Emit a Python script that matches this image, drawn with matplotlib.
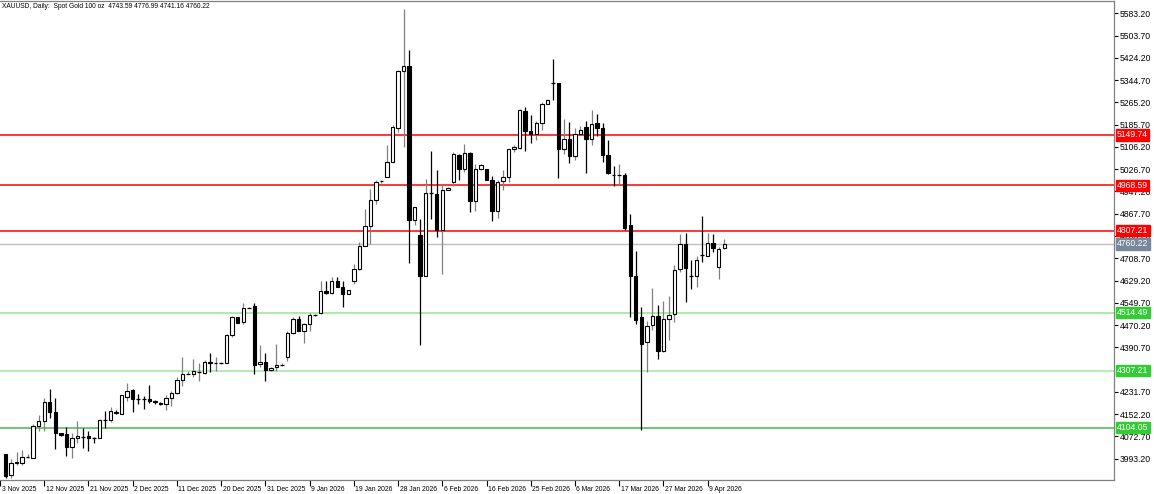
import matplotlib
matplotlib.use("Agg")
import matplotlib.pyplot as plt
import matplotlib.transforms as mtransforms

# daily candles XAUUSD
opens = [4009, 3934, 3976, 3976, 4000, 3994, 4108, 4128, 4196, 4161,
         4084, 4080, 4036, 4067, 4072, 4074, 4068, 4068, 4130, 4130,
         4161, 4154, 4214, 4238, 4206, 4206, 4206, 4199, 4193, 4190,
         4209, 4227, 4275, 4297, 4295, 4302, 4300, 4338, 4335, 4334,
         4334, 4436, 4498, 4481, 4532, 4537, 4331, 4338, 4309, 4319,
         4328, 4357, 4443, 4493, 4450, 4474, 4507, 4512, 4593, 4584,
         4629, 4605, 4581, 4627, 4671, 4753, 4825, 4915, 4983, 4999,
         5052, 5174, 5377, 5395, 4846, 4790, 4647, 4941, 4939, 4808,
         4953, 4981, 5076, 5029, 5085, 4913, 5029, 5029, 4989, 4876,
         4983, 4999, 5097, 5104, 5235, 5162, 5154, 5193, 5261, 5333,
         5333, 5097, 5136, 5073, 5154, 5178, 5136, 5192, 5175, 5079,
         5005, 5007, 5005, 4826, 4647, 4498, 4411, 4470, 4504, 4376,
         4492, 4510, 4671, 4758, 4645, 4644, 4722, 4716, 4764, 4679,
         4743.59]
highs = [4011, 3991, 4017, 4023, 4008, 4116, 4149, 4211, 4241, 4211,
         4086, 4106, 4083, 4128, 4104, 4092, 4071, 4134, 4164, 4176,
         4166, 4220, 4265, 4241, 4223, 4217, 4257, 4203, 4197, 4220,
         4235, 4285, 4355, 4307, 4349, 4333, 4345, 4371, 4355, 4337,
         4438, 4504, 4500, 4548, 4533, 4548, 4400, 4371, 4319, 4402,
         4333, 4450, 4498, 4504, 4476, 4512, 4510, 4627, 4627, 4643,
         4641, 4629, 4596, 4689, 4766, 4885, 4957, 4987, 4988, 5112,
         5184, 5380, 5597, 5452, 4893, 4850, 4993, 5091, 5023, 4975,
         4963, 5088, 5082, 5118, 5088, 5046, 5046, 5029, 5001, 4987,
         5023, 5100, 5112, 5243, 5247, 5219, 5199, 5267, 5279, 5419,
         5335, 5205, 5196, 5175, 5180, 5199, 5237, 5223, 5192, 5130,
         5037, 5044, 5013, 4868, 4736, 4536, 4483, 4602, 4543, 4555,
         4575, 4685, 4796, 4798, 4703, 4718, 4858, 4798, 4794, 4748,
         4776.99]
lows = [3925, 3925, 3970, 3969, 3996, 3994, 4092, 4092, 4140, 4029,
        4074, 4002, 3994, 4050, 4032, 4020, 4049, 4068, 4104, 4125,
        4154, 4154, 4199, 4161, 4188, 4170, 4193, 4188, 4185, 4166,
        4181, 4223, 4253, 4295, 4283, 4269, 4295, 4302, 4305, 4331,
        4334, 4426, 4476, 4474, 4530, 4297, 4321, 4271, 4305, 4305,
        4325, 4343, 4438, 4448, 4406, 4450, 4504, 4509, 4582, 4581,
        4605, 4534, 4581, 4615, 4665, 4753, 4760, 4901, 4977, 4999,
        5052, 5160, 5106, 4691, 4829, 4399, 4645, 4850, 4786, 4653,
        4951, 4965, 4987, 5017, 4873, 4877, 5025, 4987, 4841, 4853,
        4951, 4981, 5088, 5097, 5092, 5120, 5132, 5166, 5259, 5273,
        4996, 5082, 5049, 5058, 5152, 5013, 5112, 5144, 5052, 5008,
        4965, 4973, 4808, 4498, 4474, 4095, 4304, 4452, 4349, 4373,
        4417, 4480, 4659, 4551, 4599, 4605, 4695, 4716, 4730, 4635,
        4741.16]
closes = [3931, 3979, 3981, 3999, 4001, 4110, 4128, 4196, 4161, 4083,
          4078, 4036, 4068, 4073, 4071, 4066, 4067, 4130, 4129, 4164,
          4155, 4220, 4235, 4206, 4205, 4205, 4198, 4195, 4189, 4209,
          4227, 4275, 4297, 4297, 4305, 4302, 4338, 4333, 4335, 4334,
          4436, 4498, 4476, 4532, 4532, 4328, 4338, 4309, 4317, 4328,
          4328, 4443, 4493, 4450, 4474, 4507, 4507, 4593, 4584, 4629,
          4605, 4581, 4596, 4671, 4753, 4825, 4915, 4981, 4983, 5052,
          5178, 5377, 5395, 4846, 4891, 4647, 4943, 4940, 4808, 4953,
          4961, 5080, 5029, 5085, 4913, 5029, 5040, 4989, 4876, 4981,
          4999, 5097, 5106, 5237, 5162, 5154, 5193, 5261, 5275, 5332,
          5097, 5136, 5073, 5154, 5168, 5136, 5187, 5174, 5079, 5014,
          5004, 5007, 4816, 4644, 4488, 4402, 4468, 4504, 4379, 4492,
          4507, 4668, 4758, 4673, 4644, 4703, 4721, 4764, 4745, 4740,
          4760.22]

# date labels, one every 8 bars (first one sits just off the left edge)
date_labels = ["3 Nov 2025", "12 Nov 2025", "21 Nov 2025", "2 Dec 2025",
               "11 Dec 2025", "20 Dec 2025", "31 Dec 2025", "9 Jan 2026",
               "19 Jan 2026", "28 Jan 2026", "6 Feb 2026", "16 Feb 2026",
               "25 Feb 2026", "6 Mar 2026", "17 Mar 2026", "27 Mar 2026",
               "9 Apr 2026"]
date_pos = [-1 + 8 * k for k in range(len(date_labels))]

# price scale ticks (4311.20 is hidden behind a level box in the original)
price_ticks = [5583.20, 5503.70, 5424.20, 5344.70, 5265.20, 5185.70, 5106.20,
               5026.70, 4947.20, 4867.70, 4788.20, 4708.70, 4629.20, 4549.70,
               4470.20, 4390.70, 4231.70, 4152.20, 4072.70, 3993.20]

# horizontal levels
resistance = [5149.74, 4968.59, 4807.21]
support = [4514.49, 4307.21, 4104.05]
support_line_colors = ['#92e592', '#a3e6a3', '#4cb84c']
last_price = 4760.22

font = 'Liberation Sans'

W, H = 1154, 494
fig = plt.figure(figsize=(W / 100, H / 100), dpi=100)
fig.patch.set_facecolor('white')
ax = fig.add_axes([0, (H - 480) / H, 1114 / W, 479 / H])
ax.set_facecolor('white')

n = len(opens)
for i in range(n):
    o, h, l, c = opens[i], highs[i], lows[i], closes[i]
    up = c >= o
    wick_col = '#808080' if up else 'black'
    ax.vlines(i, l, h, color=wick_col, linewidth=0.9, zorder=3)
    body_lo, body_hi = min(o, c), max(o, c)
    if body_hi - body_lo < 2:
        ax.hlines(o, i - 0.32, i + 0.32, color='black', linewidth=0.9, zorder=4)
    else:
        ax.bar(i, body_hi - body_lo, bottom=body_lo, width=0.62,
               facecolor='white' if up else 'black', edgecolor='black',
               linewidth=0.8, zorder=4)

# levels
for p in resistance:
    ax.axhline(p, color='#ff0000', linewidth=1.1, zorder=2)
for p, col in zip(support, support_line_colors):
    ax.axhline(p, color=col, linewidth=1.1, zorder=2)
ax.axhline(last_price, color='#c0c0c0', linewidth=1.0, zorder=1)

ax.set_xlim(-0.6, 200.5)
ax.set_ylim(3916.9, 5627.2)

# frame
for side in ['top', 'right', 'bottom']:
    ax.spines[side].set_color('#808080')
    ax.spines[side].set_linewidth(0.9)
ax.spines['left'].set_visible(False)

ax.yaxis.tick_right()
ax.set_yticks(price_ticks)
ax.set_yticklabels(['%.2f' % v for v in price_ticks])
ax.tick_params(axis='y', direction='out', length=3, width=0.8, pad=1,
               labelsize=6.2, colors='black')
for t in ax.get_yticklabels():
    t.set_fontfamily(font)

ax.set_xticks(date_pos)
ax.set_xticklabels(date_labels)
ax.tick_params(axis='x', direction='out', length=4, width=0.8, pad=0,
               labelsize=4.9, colors='black')
for t in ax.get_xticklabels():
    t.set_fontfamily(font)
    t.set_horizontalalignment('left')
    t.set_transform(t.get_transform() + mtransforms.ScaledTranslation(1.5 / 100, 0, fig.dpi_scale_trans))

# price boxes on the right scale
trans = mtransforms.blended_transform_factory(ax.transAxes, ax.transData)
def price_box(p, col):
    ax.text(1.0 + 3 / 1114, p, '%.2f' % p, transform=trans, ha='left', va='center',
            fontsize=6.2, family=font, color='white', clip_on=False, zorder=10,
            bbox=dict(boxstyle='square,pad=0.15', facecolor=col, edgecolor=col))

for p in resistance:
    price_box(p, '#ff0000')
for p in support:
    price_box(p, '#32cd32')
price_box(last_price, '#77889a')

fig.text(2 / W, 1 - 7 / H, 'XAUUSD, Daily:  Spot Gold 100 oz  %.2f %.2f %.2f %.2f'
         % (opens[-1], highs[-1], lows[-1], closes[-1]),
         ha='left', va='center', fontsize=4.8, family=font, color='black')

fig.savefig('out.png', dpi=100)
